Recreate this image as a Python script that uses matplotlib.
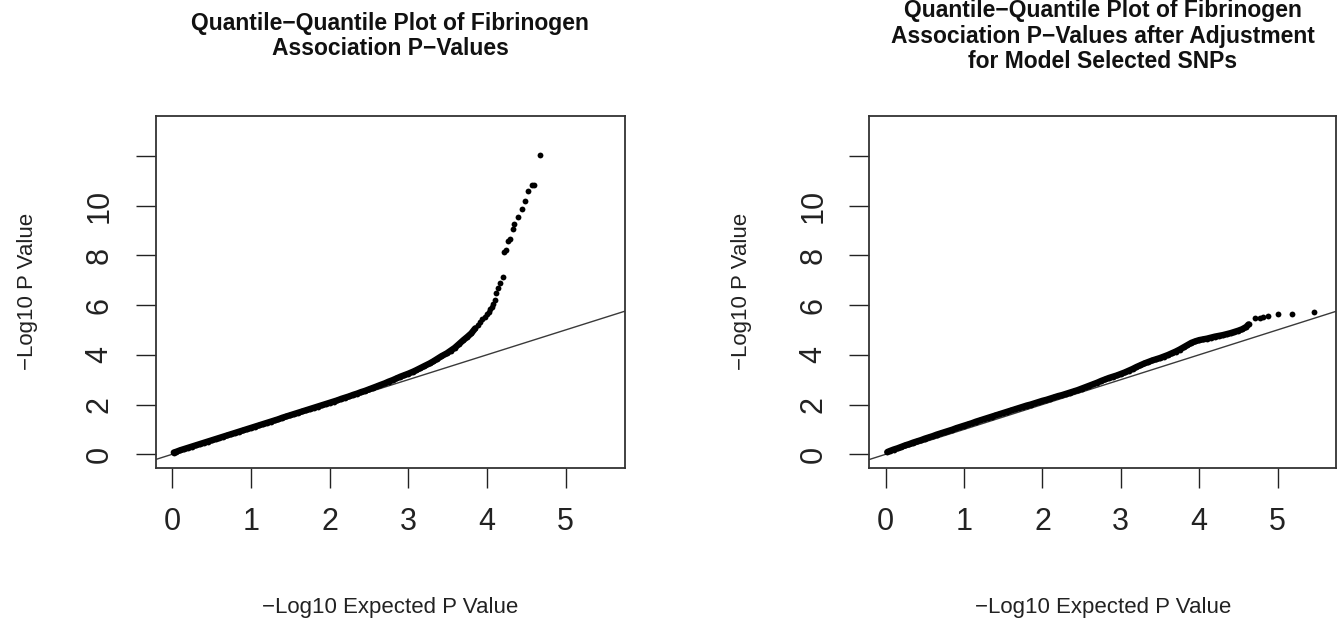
import matplotlib.pyplot as plt

exp_raw = [0.02, 0.05, 0.10, 0.15, 0.20, 0.25, 0.30, 0.35, 0.40, 0.45,
           0.50, 0.55, 0.60, 0.65, 0.70, 0.75, 0.80, 0.85, 0.90, 0.95,
           1.00, 1.05, 1.10, 1.15, 1.20, 1.25, 1.30, 1.35, 1.40, 1.45,
           1.50, 1.55, 1.60, 1.65, 1.70, 1.75, 1.80, 1.85, 1.90, 1.95,
           2.00, 2.05, 2.10, 2.15, 2.20, 2.25, 2.30, 2.35, 2.40, 2.45,
           2.50, 2.55, 2.60, 2.64, 2.70, 2.75, 2.80, 2.85, 2.90, 2.95,
           3.00, 3.06, 3.10, 3.15, 3.20, 3.27, 3.32, 3.37, 3.42, 3.49,
           3.54, 3.59, 3.64, 3.70, 3.75, 3.80, 3.85, 3.88, 3.91, 3.94,
           3.97, 4.00, 4.02, 4.04, 4.06, 4.08, 4.10, 4.12, 4.14, 4.17,
           4.20, 4.22, 4.24, 4.27, 4.29, 4.33, 4.34, 4.39, 4.44, 4.48,
           4.52, 4.57, 4.60, 4.67]
obs_raw = [0.07, 0.10, 0.16, 0.21, 0.26, 0.31, 0.36, 0.41, 0.46, 0.51,
           0.56, 0.61, 0.66, 0.71, 0.76, 0.81, 0.86, 0.91, 0.96, 1.01,
           1.06, 1.11, 1.16, 1.21, 1.26, 1.31, 1.36, 1.41, 1.47, 1.52,
           1.57, 1.62, 1.67, 1.72, 1.77, 1.82, 1.87, 1.92, 1.97, 2.02,
           2.07, 2.12, 2.17, 2.23, 2.28, 2.33, 2.39, 2.44, 2.50, 2.55,
           2.61, 2.67, 2.73, 2.78, 2.85, 2.92, 2.98, 3.05, 3.12, 3.18,
           3.24, 3.32, 3.38, 3.46, 3.54, 3.65, 3.74, 3.84, 3.94, 4.06,
           4.17, 4.28, 4.42, 4.59, 4.72, 4.86, 5.06, 5.20, 5.33, 5.43,
           5.53, 5.64, 5.73, 5.83, 5.93, 6.06, 6.20, 6.49, 6.69, 6.87,
           7.13, 8.14, 8.23, 8.58, 8.67, 9.04, 9.24, 9.54, 9.85, 10.19,
           10.59, 10.82, 10.82, 12.02]

exp_adj = [0.02, 0.05, 0.10, 0.15, 0.20, 0.25, 0.30, 0.35, 0.40, 0.45,
           0.50, 0.55, 0.60, 0.65, 0.70, 0.75, 0.80, 0.85, 0.90, 0.95,
           1.00, 1.05, 1.10, 1.15, 1.20, 1.25, 1.30, 1.35, 1.40, 1.45,
           1.50, 1.55, 1.60, 1.65, 1.70, 1.75, 1.80, 1.85, 1.90, 1.95,
           2.00, 2.05, 2.10, 2.15, 2.20, 2.25, 2.30, 2.35, 2.40, 2.45,
           2.50, 2.55, 2.60, 2.65, 2.70, 2.75, 2.80, 2.85, 2.90, 2.95,
           3.00, 3.05, 3.10, 3.15, 3.20, 3.25, 3.30, 3.35, 3.40, 3.45,
           3.50, 3.55, 3.60, 3.65, 3.70, 3.75, 3.80, 3.85, 3.90, 3.95,
           4.00, 4.05, 4.10, 4.15, 4.20, 4.25, 4.30, 4.35, 4.40, 4.45,
           4.50, 4.55, 4.60, 4.63, 4.71, 4.77, 4.82, 4.88, 5.00, 5.18,
           5.47]
obs_adj = [0.09, 0.13, 0.19, 0.24, 0.30, 0.36, 0.41, 0.47, 0.52, 0.57,
           0.63, 0.68, 0.73, 0.79, 0.84, 0.89, 0.94, 0.99, 1.05, 1.10,
           1.15, 1.20, 1.25, 1.31, 1.36, 1.41, 1.46, 1.51, 1.56, 1.61,
           1.66, 1.71, 1.76, 1.81, 1.86, 1.91, 1.96, 2.00, 2.05, 2.10,
           2.15, 2.19, 2.24, 2.29, 2.34, 2.38, 2.43, 2.48, 2.53, 2.58,
           2.64, 2.70, 2.76, 2.82, 2.88, 2.95, 3.01, 3.07, 3.12, 3.17,
           3.23, 3.29, 3.36, 3.43, 3.51, 3.58, 3.65, 3.71, 3.77, 3.82,
           3.87, 3.93, 3.99, 4.06, 4.13, 4.21, 4.30, 4.39, 4.48, 4.54,
           4.59, 4.62, 4.65, 4.69, 4.73, 4.76, 4.79, 4.83, 4.87, 4.92,
           4.97, 5.03, 5.12, 5.22, 5.48, 5.47, 5.52, 5.56, 5.62, 5.63,
           5.72]

titles = ["Quantile\u2212Quantile Plot of Fibrinogen\nAssociation P\u2212Values",
          "Quantile\u2212Quantile Plot of Fibrinogen\nAssociation P\u2212Values after Adjustment\nfor Model Selected SNPs"]
xlab = "\u2212Log10 Expected P Value"
ylab = "\u2212Log10 P Value"
xticks = [0, 1, 2, 3, 4, 5]
yticks = [0, 2, 4, 6, 8, 10, 12]
ytick_labels = ["0", "2", "4", "6", "8", "10", ""]  # R dropped the 12

plt.rcParams['font.family'] = ['Liberation Sans', 'DejaVu Sans']

W, H = 1344, 626
fig = plt.figure(figsize=(W / 100, H / 100), dpi=100)

# axes boxes in pixels: left, right, top, bottom
boxes = [(155.7, 624.7, 116, 467.7), (869.3, 1336.3, 116, 467.7)]
# where the point cloud stops being a solid ribbon
dense_until = [3.86, 4.64]

for i, (xs, ys) in enumerate([(exp_raw, obs_raw), (exp_adj, obs_adj)]):
    l, r, t, b = boxes[i]
    ax = fig.add_axes([l / W, 1 - b / H, (r - l) / W, (b - t) / H])
    ax.plot([-1, 7], [-1, 7], color='#3a3a3a', lw=1.0, zorder=1)
    n = sum(1 for v in xs if v <= dense_until[i])
    ax.plot(xs[:n], ys[:n], '-', color='black', lw=4.6,
            solid_capstyle='round', zorder=2)
    ax.plot(xs, ys, 'o', color='black', ms=4.2, mew=0, zorder=3)
    ax.set_xlim(-0.21, 5.75)
    ax.set_ylim(-0.54, 13.6)
    ax.set_xticks(xticks)
    ax.set_yticks(yticks)
    ax.set_yticklabels(ytick_labels, rotation=90, va='center')
    ax.tick_params(axis='both', direction='out', length=14.5, width=1.0,
                   color='#222222', labelsize=22, labelcolor='#222222')
    ax.tick_params(axis='x', pad=14)
    ax.tick_params(axis='y', pad=15)
    for s in ax.spines.values():
        s.set_linewidth(1.3)
        s.set_color('#333333')
    ax.set_xlabel(xlab, fontsize=16, va='baseline', color='#222222')
    ax.xaxis.set_label_coords(0.5, (b - 613) / (b - t))
    ax.set_ylabel(ylab, fontsize=16, va='center', color='#222222')
    ax.yaxis.set_label_coords(-128 / (r - l), 0.5)
    fig.text((l + r) / 2 / W, 1 - 36 / H, titles[i], ha='center', va='center',
             fontsize=16.5, fontweight='bold', linespacing=1.15,
             color='#111111')

fig.savefig('out.png', dpi=100)
